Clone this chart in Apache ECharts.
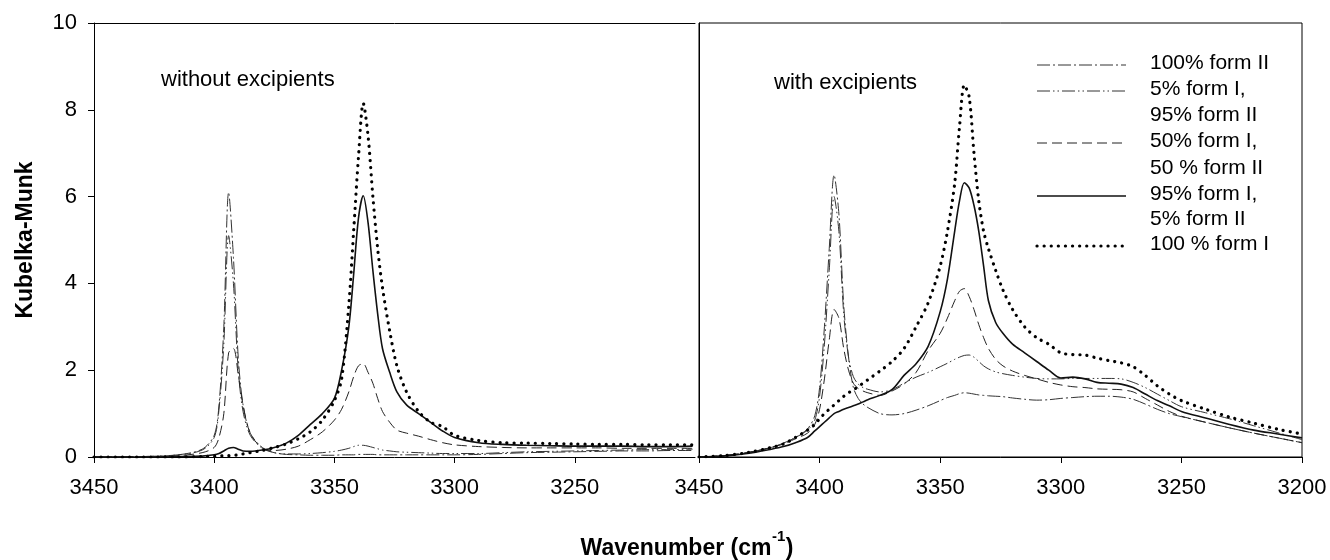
<!DOCTYPE html>
<html>
<head>
<meta charset="utf-8">
<script src="https://cdn.jsdelivr.net/npm/echarts@6/dist/echarts.min.js"></script>
<style>html,body{margin:0;padding:0;background:#fff}#c{width:1330px;height:560px}</style>
</head>
<body>
<div id="c"></div>
<script>
// ---------- DATA ----------
var seriesNames = ['100% form II', '5% form I, 95% form II', '50% form I, 50 % form II', '95% form I, 5% form II', '100 % form I'];
var yTicks = [0, 2, 4, 6, 8, 10];
var xTicks = [3450, 3400, 3350, 3300, 3250, 3200];

// Left panel: without excipients
var wL = [3450,3430,3415,3405,3400,3398,3396,3394,3392,3390,3388,3385,3380,3375,3370,3365,3360,3355,3350,3347,3344,3342,3340,3338,3336,3334,3332,3330,3327,3324,3320,3315,3310,3305,3300,3290,3280,3270,3260,3250,3240,3230,3220,3210,3201];
var L_formII100 = [0,0.01,0.05,0.18,0.5,1.2,3.0,6.1,4.6,2.3,1.2,0.55,0.22,0.1,0.06,0.05,0.04,0.04,0.04,0.05,0.05,0.05,0.06,0.06,0.06,0.06,0.05,0.05,0.05,0.05,0.05,0.05,0.05,0.05,0.05,0.06,0.08,0.1,0.11,0.12,0.13,0.14,0.14,0.15,0.15];
var L_formI5 = [0,0.01,0.05,0.16,0.45,1.1,2.6,5.1,4.0,2.0,1.05,0.5,0.2,0.1,0.07,0.07,0.08,0.1,0.13,0.16,0.2,0.24,0.27,0.27,0.25,0.22,0.19,0.16,0.14,0.12,0.11,0.1,0.09,0.08,0.08,0.08,0.1,0.12,0.13,0.14,0.15,0.16,0.17,0.17,0.18];
var L_formI50 = [0,0,0.03,0.1,0.22,0.45,1.0,2.4,2.5,1.9,1.2,0.55,0.2,0.15,0.18,0.25,0.4,0.58,0.85,1.1,1.5,1.85,2.1,2.15,1.95,1.7,1.35,1.05,0.8,0.62,0.55,0.48,0.4,0.33,0.28,0.24,0.22,0.21,0.21,0.21,0.21,0.2,0.2,0.2,0.2];
var L_formI95 = [0,0,0.01,0.02,0.05,0.08,0.14,0.2,0.22,0.18,0.14,0.13,0.16,0.22,0.32,0.5,0.75,1.0,1.35,2.0,3.0,4.2,5.5,6.02,5.4,4.3,3.3,2.5,1.95,1.5,1.2,1.0,0.8,0.6,0.45,0.33,0.29,0.27,0.26,0.25,0.25,0.25,0.24,0.24,0.25];
var L_formI100 = [0,0,0,0.01,0.02,0.02,0.03,0.03,0.04,0.05,0.07,0.1,0.15,0.22,0.3,0.42,0.58,0.85,1.3,1.8,3.5,5.2,6.9,8.15,7.4,6.0,4.8,3.9,2.9,2.1,1.5,1.05,0.8,0.7,0.5,0.38,0.33,0.32,0.31,0.3,0.29,0.29,0.28,0.28,0.28];

// Right panel: with excipients
var wR = [3450,3440,3430,3420,3415,3410,3405,3402,3400,3398,3396,3394,3392,3390,3388,3386,3384,3382,3380,3375,3370,3365,3360,3355,3350,3347,3344,3342,3340,3338,3336,3334,3332,3330,3327,3324,3320,3315,3310,3305,3300,3295,3290,3285,3280,3275,3270,3265,3260,3255,3250,3240,3230,3220,3210,3200];
var R_formII100 = [0,0.03,0.1,0.22,0.32,0.45,0.65,0.95,1.6,3.0,4.8,6.5,5.6,3.5,2.3,1.6,1.35,1.22,1.14,1.0,0.97,1.0,1.08,1.18,1.3,1.37,1.42,1.46,1.48,1.47,1.45,1.43,1.42,1.41,1.4,1.39,1.36,1.33,1.31,1.32,1.35,1.37,1.39,1.4,1.4,1.38,1.33,1.22,1.1,1.0,0.93,0.8,0.67,0.55,0.44,0.33];
var R_formI5 = [0,0.03,0.1,0.22,0.32,0.45,0.62,0.85,1.4,2.6,4.3,6.0,5.2,3.3,2.3,1.85,1.68,1.6,1.56,1.5,1.55,1.7,1.84,1.95,2.08,2.16,2.25,2.3,2.34,2.35,2.3,2.2,2.1,2.03,1.96,1.92,1.88,1.84,1.81,1.8,1.8,1.81,1.81,1.81,1.81,1.8,1.72,1.6,1.45,1.3,1.16,1.02,0.88,0.72,0.56,0.4];
var R_formI50 = [0,0.03,0.1,0.22,0.3,0.42,0.55,0.75,1.1,1.8,2.7,3.4,3.2,2.5,2.0,1.7,1.58,1.52,1.48,1.42,1.52,1.68,1.95,2.45,2.85,3.2,3.6,3.82,3.88,3.7,3.4,3.05,2.75,2.5,2.25,2.1,1.98,1.88,1.8,1.72,1.66,1.62,1.6,1.57,1.56,1.55,1.5,1.35,1.2,1.05,0.94,0.8,0.67,0.55,0.44,0.33];
var R_formI95 = [0,0.02,0.08,0.18,0.24,0.33,0.45,0.6,0.7,0.8,0.9,1.0,1.05,1.1,1.14,1.18,1.22,1.27,1.32,1.42,1.55,1.88,2.15,2.55,3.35,4.1,5.2,5.9,6.32,6.2,5.8,5.2,4.4,3.6,3.1,2.85,2.6,2.4,2.2,2.0,1.82,1.84,1.8,1.72,1.7,1.68,1.6,1.45,1.3,1.18,1.05,0.9,0.75,0.62,0.53,0.44];
var R_formI100 = [0,0.03,0.1,0.22,0.3,0.45,0.62,0.75,0.88,1.0,1.1,1.2,1.3,1.4,1.48,1.55,1.62,1.7,1.78,1.98,2.2,2.5,3.0,3.55,4.4,5.2,6.3,7.6,8.57,8.3,7.0,5.9,5.2,4.8,4.3,3.85,3.4,3.0,2.75,2.6,2.4,2.36,2.35,2.28,2.22,2.17,2.08,1.88,1.64,1.45,1.3,1.1,0.92,0.78,0.64,0.53];

// Legend text lines
var legendText = ['100% form II', '5% form I,', '95% form II', '50% form I,', '50 % form II', '95% form I,', '5% form II', '100 % form I'];

// ---------- STYLES ----------
var styles = [
  {type: [13, 3, 2, 3], width: 1, color: '#333'},
  {type: [13, 3, 1.5, 3, 1.5, 3], width: 1, color: '#333'},
  {type: [10, 5], width: 1, color: '#222'},
  {type: 'solid', width: 1.6, color: '#111'},
  {type: [0.1, 7], width: 3.2, color: '#000', cap: 'round'}
];
var FONT = 'Liberation Sans, Arial, sans-serif';

function pairs(xs, ys) { return xs.map(function (x, i) { return [x, ys[i]]; }); }

var leftData = [L_formII100, L_formI5, L_formI50, L_formI95, L_formI100];
var rightData = [R_formII100, R_formI5, R_formI50, R_formI95, R_formI100];

var series = [];
leftData.forEach(function (d, i) {
  series.push({type: 'line', xAxisIndex: 0, yAxisIndex: 0, name: seriesNames[i], data: pairs(wL, d),
    showSymbol: false, smooth: 0.3, lineStyle: styles[i], z: 2 + i, silent: true});
});
rightData.forEach(function (d, i) {
  series.push({type: 'line', xAxisIndex: 2, yAxisIndex: 1, name: seriesNames[i], data: pairs(wR, d),
    showSymbol: false, smooth: 0.3, lineStyle: styles[i], z: 2 + i, silent: true});
});

var labelStyle = {color: '#000', fontSize: 22, fontFamily: FONT};

// Legend (drawn as graphic)
var legendRows = [65, 91, 117, 143, 170, 196, 221, 246];
var legendLineRows = [0, 1, 3, 5, 7];
var graphics = [];
legendText.forEach(function (t, i) {
  graphics.push({type: 'text', left: 1150, top: legendRows[i] - 12,
    style: {text: t, fill: '#000', font: '21px ' + FONT}});
});
legendLineRows.forEach(function (r, i) {
  var s = styles[i];
  graphics.push({type: 'line', shape: {x1: 1037, y1: legendRows[r], x2: 1126, y2: legendRows[r]},
    style: {stroke: s.color, lineWidth: s.width, lineDash: s.type === 'solid' ? null : s.type, lineCap: s.cap || 'butt'}});
});
graphics.push({type: 'text', left: 161, top: 69, style: {text: 'without excipients', fill: '#000', font: '22px ' + FONT}});
graphics.push({type: 'text', left: 774, top: 72, style: {text: 'with excipients', fill: '#000', font: '22px ' + FONT}});

// X axis title with superscript, measured so it stays centred
(function () {
  var ctx = document.createElement('canvas').getContext('2d');
  var fMain = 'bold 23px ' + FONT, fSup = 'bold 15px ' + FONT;
  var t1 = 'Wavenumber (cm', t2 = '-1', t3 = ')';
  ctx.font = fMain; var w1 = ctx.measureText(t1).width, w3 = ctx.measureText(t3).width;
  ctx.font = fSup; var w2 = ctx.measureText(t2).width;
  var x0 = 687 - (w1 + w2 + 1 + w3) / 2;
  graphics.push({type: 'text', left: x0, top: 537, style: {text: t1, fill: '#000', font: fMain}});
  graphics.push({type: 'text', left: x0 + w1 + 0.5, top: 529, style: {text: t2, fill: '#000', font: fSup}});
  graphics.push({type: 'text', left: x0 + w1 + w2 + 1, top: 537, style: {text: t3, fill: '#000', font: fMain}});
})();

function fmt(v) { return xTicks.indexOf(v) >= 0 ? String(v) : ''; }

var xBase = {type: 'value', inverse: true, min: 3200, max: 3450, interval: 50,
  axisLine: {show: true, onZero: false, lineStyle: {color: '#000', width: 1}},
  axisTick: {show: true, inside: false, length: 6, lineStyle: {color: '#000'}},
  axisLabel: Object.assign({margin: 20, formatter: fmt}, labelStyle),
  splitLine: {show: false}};

var option = {
  animation: false,
  backgroundColor: '#fff',
  grid: [
    {left: 94, right: 635, top: 23, bottom: 103, show: false},
    {left: 699, right: 28, top: 23, bottom: 103, show: true, borderColor: '#000', borderWidth: 1, backgroundColor: 'transparent'}
  ],
  xAxis: [
    Object.assign({}, xBase, {gridIndex: 0, position: 'bottom', axisLabel: Object.assign({}, xBase.axisLabel, {showMinLabel: false})}),
    Object.assign({}, xBase, {gridIndex: 0, position: 'top', axisTick: {show: false}, axisLabel: {show: false}}),
    Object.assign({}, xBase, {gridIndex: 1, position: 'bottom'})
  ],
  yAxis: [
    {type: 'value', gridIndex: 0, min: 0, max: 10, interval: 2,
      name: 'Kubelka-Munk', nameLocation: 'middle', nameGap: 57,
      nameTextStyle: {fontSize: 23, fontWeight: 'bold', fontFamily: FONT, color: '#000'},
      axisLine: {show: true, lineStyle: {color: '#000'}},
      axisTick: {show: true, length: 6, lineStyle: {color: '#000'}},
      axisLabel: Object.assign({margin: 17, formatter: function (v) { return yTicks.indexOf(v) >= 0 ? String(v) : ''; }}, labelStyle),
      splitLine: {show: false}},
    {type: 'value', gridIndex: 1, min: 0, max: 10, interval: 2,
      axisLine: {show: true, lineStyle: {color: '#000'}},
      axisTick: {show: false}, axisLabel: {show: false}, splitLine: {show: false}}
  ],
  graphic: graphics,
  series: series
};

var chart = echarts.init(document.getElementById('c'), null, {renderer: 'canvas'});
chart.setOption(option);
</script>
</body>
</html>
